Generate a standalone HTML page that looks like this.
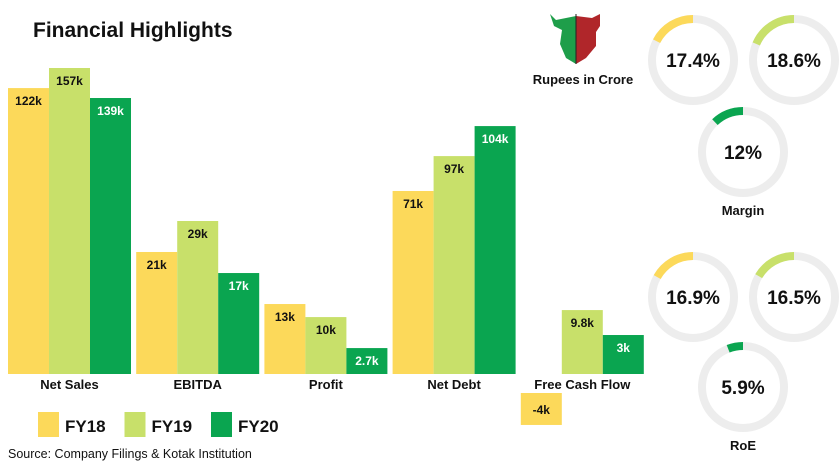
<!DOCTYPE html>
<html><head><meta charset="utf-8"><style>
body{margin:0;background:#fff;}
#c{width:840px;height:472px;position:relative;overflow:hidden;font-family:"Liberation Sans",sans-serif;}
svg text{font-family:"Liberation Sans",sans-serif;}
</style></head><body>
<div id="c">
<svg id="s" width="840" height="472">
<text x="33" y="37" font-size="21" font-weight="bold" fill="#111">Financial Highlights</text>
<g>
<path d="M576 16 L556 20 L550 14 L554 26 L562 30 L560 44 L566 58 L576 64 Z" fill="#1e9e4a"/>
<path d="M576 16 L592 18 L600 14 L600 26 L596 32 L596 46 L586 58 L576 64 Z" fill="#b0262a"/>
<line x1="576" y1="14" x2="576" y2="64" stroke="#222" stroke-width="1"/>
</g>
<text x="583" y="84" font-size="13" font-weight="bold" fill="#111" text-anchor="middle">Rupees in Crore</text>
<g id="bars"></g>
<g id="donuts"></g>
<text x="8" y="458" font-size="12.5" fill="#111">Source: Company Filings &amp; Kotak Institution</text>
</svg>
</div>
<script>
const categories=["Net Sales","EBITDA","Profit","Net Debt","Free Cash Flow"];
const seriesNames=["FY18","FY19","FY20"];
// plotted bar magnitudes (as drawn in the reference)
const fy18=[146.7,62.6,35.9,93.9,-16.4];
const fy19=[157,78.5,29.2,111.8,32.8];
const fy20=[141.6,51.8,13.3,127.2,20];
const labels18=["122k","21k","13k","71k","-4k"];
const labels19=["157k","29k","10k","97k","9.8k"];
const labels20=["139k","17k","2.7k","104k","3k"];
const donutValues=[17.4,18.6,12,16.9,16.5,5.9];
const donutLabels=["17.4%","18.6%","12%","16.9%","16.5%","5.9%"];
const donutGroups=["Margin","RoE"];

const NS="http://www.w3.org/2000/svg";
const colors=["#fcd95a","#c8e06a","#0aa550"];
const textCol=["#111","#111","#fff"];
const base=374, pxPerUnit=306/157;
const y=v=>base-v*pxPerUnit;
const groupX=i=>8+i*128.2;
const barW=41;
function mk(tag,attrs,parent){const e=document.createElementNS(NS,tag);for(const k in attrs)e.setAttribute(k,attrs[k]);parent.appendChild(e);return e;}
const bars=document.getElementById('bars');
const series=[fy18,fy19,fy20], lbls=[labels18,labels19,labels20];
categories.forEach((cat,i)=>{
  series.forEach((arr,j)=>{
    const v=arr[i];
    const x=groupX(i)+j*barW;
    let top,h;
    if(v>=0){top=y(v);h=base-top;}else{top=base+19;h=-v*pxPerUnit;}
    const r=mk('rect',{x:x,y:top,width:barW,height:h,fill:colors[j]},bars);
    
    
    const t=mk('text',{x:x+barW/2,y:(v>=0?top+17:top+h/2+5),'font-size':12,'font-weight':'bold','text-anchor':'middle',fill:textCol[j]},bars);
    t.textContent=lbls[j][i];
    
    
  });
  const c=mk('text',{x:groupX(i)+barW*1.5,y:389,'font-size':13,'font-weight':'bold','text-anchor':'middle',fill:'#111'},bars);
  c.textContent=cat;
  
  
});
seriesNames.forEach((n,j)=>{
  const x=38+j*86.5;
  const r=mk('rect',{x:x,y:412,width:21,height:25,fill:colors[j]},bars);
  
  
  const t=mk('text',{x:x+27,y:432,'font-size':17,'font-weight':'bold',fill:'#111'},bars);
  t.textContent=n;
  
  
});
const dg=document.getElementById('donuts');
const centers=[[693,60],[794,60],[743,152],[693,297],[794,297],[743,387]];
const R=41;
donutValues.forEach((v,i)=>{
  const [cx,cy]=centers[i];
  const ci=mk('circle',{cx:cx,cy:cy,r:R,fill:'none',stroke:'#ededed','stroke-width':8},dg);
  
  
  const a=v/100*2*Math.PI;
  const ex=cx-R*Math.sin(a), ey=cy-R*Math.cos(a);
  const p=mk('path',{d:`M${cx} ${cy-R} A${R} ${R} 0 ${a>Math.PI?1:0} 0 ${ex} ${ey}`,fill:'none',stroke:colors[i%3],'stroke-width':8},dg);
  
  
  const t=mk('text',{x:cx,y:cy+7,'font-size':19,'font-weight':'bold','text-anchor':'middle',fill:'#111'},dg);
  t.textContent=donutLabels[i];
  
  
});
donutGroups.forEach((g,k)=>{
  const t=mk('text',{x:743,y:k?450:215,'font-size':13,'font-weight':'bold','text-anchor':'middle',fill:'#111'},dg);
  t.textContent=g;
  
  
});
</script>
</body></html>
